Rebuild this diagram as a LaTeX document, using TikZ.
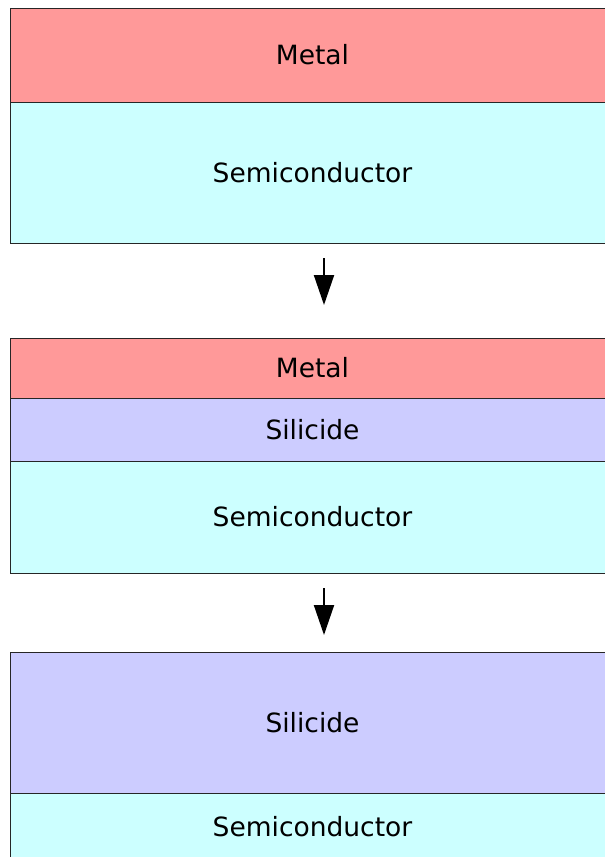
\documentclass[tikz,border=0pt]{standalone}
\usepackage{fontspec}
\setmainfont{DejaVu Sans}
\usetikzlibrary{positioning,arrows.meta}
\definecolor{metalc}{HTML}{FF9999}
\definecolor{semic}{HTML}{CCFFFF}
\definecolor{silic}{HTML}{CCCCFF}
\tikzset{
  layer/.style={draw=black!85,line width=1pt,inner sep=0pt,outer sep=0pt,
    minimum width=605pt,font=\fontsize{26.5}{30}\selectfont},
  stage/.style={-{Triangle[length=30pt,width=20pt]},line width=2pt,black}
}
\begin{document}
\begin{tikzpicture}[x=1pt,y=1pt]
\useasboundingbox (0,0) rectangle (605,-857);
% first stack
\node[layer,fill=metalc,minimum height=94pt] (metalA) at (312.5,-55) {Metal};
\node[layer,fill=semic,minimum height=141pt,below=0pt of metalA] (semiA) {Semiconductor};
% second stack
\node[layer,fill=metalc,minimum height=60pt,below=95pt of semiA] (metalB) {Metal};
\node[layer,fill=silic,minimum height=63pt,below=0pt of metalB] (siliB) {Silicide};
\node[layer,fill=semic,minimum height=112pt,below=0pt of siliB] (semiB) {Semiconductor};
% third stack
\node[layer,fill=silic,minimum height=141pt,below=79pt of semiB] (siliC) {Silicide};
\node[layer,fill=semic,minimum height=68pt,below=0pt of siliC] (semiC) {Semiconductor};
% arrows between the stages
\draw[stage,shorten <=15pt,shorten >=33pt] ([xshift=11.5pt]semiA.south) -- ([xshift=11.5pt]metalB.north);
\draw[stage,shorten <=15pt,shorten >=17pt] ([xshift=11.5pt]semiB.south) -- ([xshift=11.5pt]siliC.north);
\end{tikzpicture}
\end{document}
